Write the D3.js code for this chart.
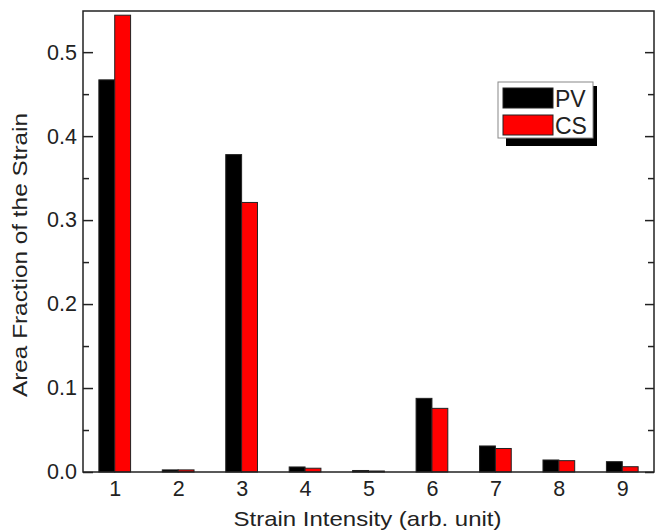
<!DOCTYPE html>
<html>
<head>
<meta charset="utf-8">
<script src="https://cdn.jsdelivr.net/npm/d3@7"></script>
<style>
  body { margin: 0; background: #fff; }
  text { font-family: "Liberation Sans", Arial, sans-serif; fill: #222; }
</style>
</head>
<body>
<div id="chart"></div>
<script>
var categories = [1, 2, 3, 4, 5, 6, 7, 8, 9];
var pvValues = [0.467, 0.0025, 0.378, 0.006, 0.0018, 0.0877, 0.031, 0.0143, 0.0123];
var csValues = [0.544, 0.0025, 0.321, 0.0045, 0.0012, 0.0758, 0.028, 0.0135, 0.0063];
var yTicks = [0.0, 0.1, 0.2, 0.3, 0.4, 0.5];
var yMinorTicks = [0.05, 0.15, 0.25, 0.35, 0.45];
var seriesNames = ["PV", "CS"];
var seriesColors = ["#000000", "#ff0000"];

var svgWidth = 656;
var svgHeight = 530;

var margin = { top: 11, right: 2, bottom: 58, left: 83 };
var width = svgWidth - margin.left - margin.right;
var height = svgHeight - margin.top - margin.bottom;

var svg = d3.select("#chart")
  .append("svg")
  .attr("width", svgWidth)
  .attr("height", svgHeight);

var chartGroup = svg.append("g")
  .attr("transform", `translate(${margin.left}, ${margin.top})`);

var xScale = d3.scaleLinear()
  .domain([0.5, 9.5])
  .range([0, width]);

var yScale = d3.scaleLinear()
  .domain([0, 0.549])
  .range([height, 0]);

var barW = 0.25;

// bars
var series = [pvValues, csValues];
series.forEach(function(vals, s) {
  chartGroup.selectAll(null)
    .data(categories)
    .enter()
    .append("rect")
    .attr("x", (d, i) => xScale(d + (s === 0 ? -barW : 0)))
    .attr("width", xScale(1 + barW) - xScale(1))
    .attr("y", (d, i) => yScale(vals[i]))
    .attr("height", (d, i) => height - yScale(vals[i]))
    .attr("fill", seriesColors[s])
    .attr("stroke", "#222")
    .attr("stroke-width", 1);
});

// frame
chartGroup.append("rect")
  .attr("x", 0).attr("y", 0)
  .attr("width", width).attr("height", height)
  .attr("fill", "none")
  .attr("stroke", "#222")
  .attr("stroke-width", 1.5);

function styleTicks(g) {
  g.select(".domain").remove();
  g.selectAll("line").attr("stroke", "#222").attr("stroke-width", 1.5);
}

// left axis (ticks inward)
var leftAxis = d3.axisLeft(yScale)
  .tickValues(yTicks)
  .tickFormat(d3.format(".1f"))
  .tickSizeInner(-10)
  .tickSizeOuter(0)
  .tickPadding(6);

var yAxisG = chartGroup.append("g").call(leftAxis);
styleTicks(yAxisG);
yAxisG.selectAll("text")
  .attr("font-size", "21.5px")
  .attr("fill", "#222")
  .style("font-family", "Liberation Sans, Arial, sans-serif");

var leftMinor = d3.axisLeft(yScale)
  .tickValues(yMinorTicks)
  .tickFormat("")
  .tickSizeInner(-6)
  .tickSizeOuter(0);
styleTicks(chartGroup.append("g").call(leftMinor));

// right axis (ticks inward, no labels)
var rightAxis = d3.axisRight(yScale)
  .tickValues(yTicks)
  .tickFormat("")
  .tickSizeInner(-9)
  .tickSizeOuter(0);
styleTicks(chartGroup.append("g")
  .attr("transform", `translate(${width}, 0)`)
  .call(rightAxis));

var rightMinor = d3.axisRight(yScale)
  .tickValues(yMinorTicks)
  .tickFormat("")
  .tickSizeInner(-6)
  .tickSizeOuter(0);
styleTicks(chartGroup.append("g")
  .attr("transform", `translate(${width}, 0)`)
  .call(rightMinor));

// bottom axis: labels only
var bottomAxis = d3.axisBottom(xScale)
  .tickValues(categories)
  .tickFormat(d3.format("d"))
  .tickSize(0)
  .tickPadding(9);
var xAxisG = chartGroup.append("g")
  .attr("transform", `translate(0, ${height})`)
  .call(bottomAxis);
xAxisG.select(".domain").remove();
xAxisG.selectAll("text")
  .attr("font-size", "21.5px")
  .attr("fill", "#222")
  .style("font-family", "Liberation Sans, Arial, sans-serif");

// axis titles
chartGroup.append("text")
  .attr("transform", "rotate(-90)")
  .attr("x", -244)
  .attr("y", -56)
  .attr("text-anchor", "middle")
  .attr("font-size", "21px")
  .attr("textLength", 284)
  .attr("lengthAdjust", "spacingAndGlyphs")
  .text("Area Fraction of the Strain");

chartGroup.append("text")
  .attr("x", width / 2 - 1)
  .attr("y", height + 54)
  .attr("text-anchor", "middle")
  .attr("font-size", "21px")
  .attr("textLength", 268)
  .attr("lengthAdjust", "spacingAndGlyphs")
  .text("Strain Intensity (arb. unit)");

// legend with drop shadow
var legend = svg.append("g").attr("transform", "translate(498, 82)");
legend.append("rect")
  .attr("x", 8).attr("y", 4)
  .attr("width", 91).attr("height", 60)
  .attr("fill", "#000");
legend.append("rect")
  .attr("x", 0).attr("y", 0)
  .attr("width", 95).attr("height", 56)
  .attr("fill", "#fff")
  .attr("stroke", "#888")
  .attr("stroke-width", 1);

seriesNames.forEach(function(name, i) {
  legend.append("rect")
    .attr("x", 5)
    .attr("y", 6 + i * 27)
    .attr("width", 50)
    .attr("height", 20)
    .attr("fill", seriesColors[i])
    .attr("stroke", "#222")
    .attr("stroke-width", 1);
  legend.append("text")
    .attr("x", 57)
    .attr("y", 25 + i * 27)
    .attr("font-size", "23px")
    .text(name);
});
</script>
</body>
</html>
